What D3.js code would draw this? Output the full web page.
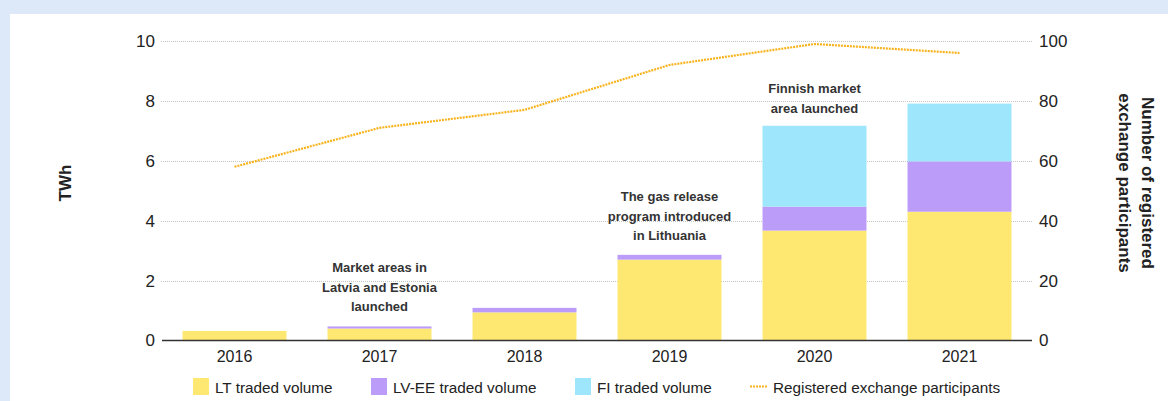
<!DOCTYPE html>
<html>
<head>
<meta charset="utf-8">
<script src="https://cdn.jsdelivr.net/npm/d3@7/dist/d3.min.js"></script>
<style>
  html, body { margin: 0; padding: 0; background: #dde9f9; }
  svg { display: block; font-family: "Liberation Sans", Arial, sans-serif; }
</style>
</head>
<body>
<svg id="chart" width="1168" height="401"></svg>
<script>
// Traded volumes on the exchange (TWh) and registered participants
const years = ["2016", "2017", "2018", "2019", "2020", "2021"];
const ltVolume = [0.32, 0.40, 0.94, 2.70, 3.67, 4.30];
const lvEeVolume = [0.00, 0.07, 0.15, 0.16, 0.80, 1.68];
const fiVolume = [0.00, 0.00, 0.00, 0.00, 2.70, 1.93];
const participants = [58, 71, 77, 92, 99, 96];

const leftTicks = [0, 2, 4, 6, 8, 10];
const rightTicks = [0, 20, 40, 60, 80, 100];

const seriesNames = ["LT traded volume", "LV-EE traded volume", "FI traded volume"];
const lineName = "Registered exchange participants";

const notes = [
  { year: "2017", lines: ["Market areas in", "Latvia and Estonia", "launched"], top: 267 },
  { year: "2019", lines: ["The gas release", "program introduced", "in Lithuania"], top: 196 },
  { year: "2020", lines: ["Finnish market", "area launched"], top: 88 }
];

const colors = ["#fee872", "#bb9cf8", "#9de6fb"];
const lineColor = "#f8b31c";

const svg = d3.select("#chart");

// white panel
svg.append("rect").attr("x", 10).attr("y", 14).attr("width", 1158).attr("height", 387).attr("fill", "#fff");

const x0 = 162, x1 = 1032, yBottom = 340.5, yTop = 41;
const x = d3.scaleBand().domain(years).range([x0, x1]).paddingInner(0.283).paddingOuter(0.1415);
const y = d3.scaleLinear().domain([0, 10]).range([yBottom, yTop]);
const yR = d3.scaleLinear().domain([0, 100]).range([yBottom, yTop]);

// dotted gridlines
svg.append("g").selectAll("line").data(leftTicks.filter(d => d > 0)).join("line")
  .attr("x1", x0 - 1).attr("x2", x1)
  .attr("y1", d => Math.round(y(d)) + 0.5).attr("y2", d => Math.round(y(d)) + 0.5)
  .attr("stroke", "#c4c4c4").attr("stroke-width", 1).attr("stroke-dasharray", "1,1");

// stacked bars
const table = years.map((yr, i) => ({ year: yr, lt: ltVolume[i], lv: lvEeVolume[i], fi: fiVolume[i] }));
const stack = d3.stack().keys(["lt", "lv", "fi"])(table);
svg.append("g").selectAll("g").data(stack).join("g")
  .attr("fill", (d, i) => colors[i])
  .selectAll("rect").data(d => d.filter(p => p[1] - p[0] > 0)).join("rect")
  .attr("x", d => x(d.data.year))
  .attr("width", x.bandwidth())
  .attr("y", d => y(d[1]))
  .attr("height", d => y(d[0]) - y(d[1]));

// baseline
svg.append("line").attr("x1", x0).attr("x2", x1).attr("y1", yBottom).attr("y2", yBottom)
  .attr("stroke", "#333").attr("stroke-width", 1.5);

// participants line
const line = d3.line().x((d, i) => x(years[i]) + x.bandwidth() / 2).y(d => yR(d));
svg.append("path").datum(participants).attr("d", line)
  .attr("fill", "none").attr("stroke", lineColor).attr("stroke-width", 2.2)
  .attr("stroke-dasharray", "2,1");

// axes
const axisL = d3.axisLeft(y).tickValues(leftTicks).tickSize(0).tickPadding(0);
const gL = svg.append("g").attr("transform", `translate(${155},0)`).call(axisL);
const axisR = d3.axisRight(yR).tickValues(rightTicks).tickSize(0).tickPadding(0);
const gR = svg.append("g").attr("transform", `translate(${1039},0)`).call(axisR);
const axisB = d3.axisBottom(x).tickSize(0).tickPadding(0);
const gB = svg.append("g").attr("transform", `translate(0,${351})`).call(axisB);
[gL, gR, gB].forEach(g => {
  g.select(".domain").remove();
  g.selectAll("text").attr("fill", "#222").attr("font-size", 17).attr("font-family", "\"Liberation Sans\", Arial, sans-serif");
});
gB.selectAll("text").attr("font-size", 16).attr("dy", "0.71em");

// axis titles
svg.append("text").attr("transform", "translate(71,183) rotate(-90)")
  .attr("text-anchor", "middle").attr("font-weight", "bold").attr("font-size", 17).attr("fill", "#222")
  .text("TWh");
const rTitle = svg.append("text").attr("transform", "translate(1142,183) rotate(90)")
  .attr("text-anchor", "middle").attr("font-weight", "bold").attr("font-size", 17).attr("fill", "#222");
rTitle.append("tspan").attr("x", 0).attr("y", 0).text("Number of registered");
rTitle.append("tspan").attr("x", 0).attr("y", 23).text("exchange participants");

// annotations
notes.forEach(n => {
  const t = svg.append("text").attr("text-anchor", "middle").attr("font-weight", "bold")
    .attr("font-size", 13).attr("fill", "#333");
  n.lines.forEach((s, i) => {
    t.append("tspan").attr("x", x(n.year) + x.bandwidth() / 2).attr("y", n.top + i * 19.5 + 5).text(s);
  });
});

// legend
const legendX = [193, 371, 575];
seriesNames.forEach((name, i) => {
  svg.append("rect").attr("x", legendX[i]).attr("y", 378).attr("width", 16).attr("height", 17).attr("fill", colors[i]);
  svg.append("text").attr("x", legendX[i] + 22).attr("y", 393).attr("font-size", 15.3).attr("fill", "#222").text(name);
});
svg.append("line").attr("x1", 750).attr("x2", 767).attr("y1", 386.5).attr("y2", 386.5)
  .attr("stroke", lineColor).attr("stroke-width", 2).attr("stroke-dasharray", "2,1");
svg.append("text").attr("x", 773).attr("y", 393).attr("font-size", 15.3).attr("fill", "#222").text(lineName);
</script>
</body>
</html>
